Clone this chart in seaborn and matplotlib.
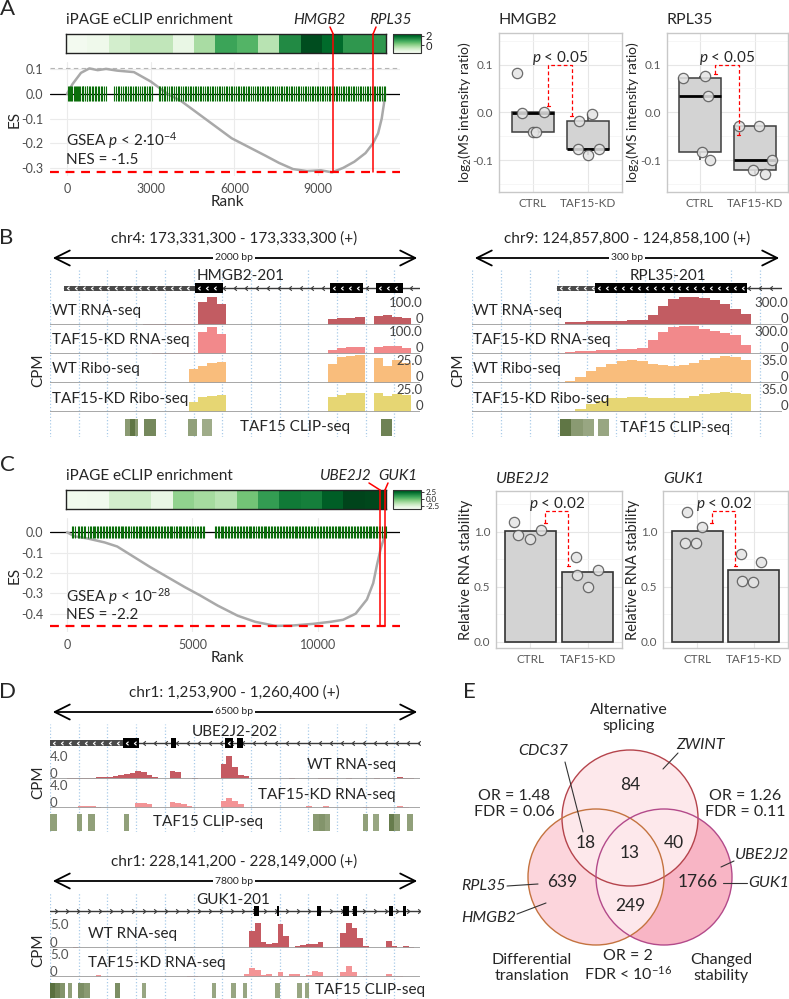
import numpy as np
import pandas as pd
import matplotlib
matplotlib.use("Agg")
import matplotlib.pyplot as plt
import seaborn as sns
from matplotlib.patches import Rectangle, Circle, FancyArrowPatch
from matplotlib.lines import Line2D
from matplotlib.colors import LinearSegmentedColormap
from matplotlib.ticker import FormatStrFormatter

W, H = 789, 999

# ---------------- data: panel A (GSEA, translation) ----------------
a_rank = [0, 200, 500, 800, 1100, 1400, 1800, 2400, 3000, 3600, 4100, 4700, 5300, 5900, 6500,
          7100, 7600, 8100, 8600, 9100, 9500, 9900, 10300, 10700, 10970, 11150, 11280, 11360, 11400]
a_es = [0.0, 0.04, 0.085, 0.103, 0.096, 0.101, 0.094, 0.088, 0.05, 0.0, -0.03, -0.08, -0.13, -0.18, -0.215,
        -0.25, -0.28, -0.305, -0.313, -0.31, -0.318, -0.3, -0.275, -0.24, -0.2, -0.16, -0.1, -0.04, 0.0]
a_hits = [20, 60, 110, 150, 190, 240, 270, 310, 350, 400, 430, 470, 520, 560, 590, 640, 700, 730, 780, 840,
          880, 930, 990, 1040, 1100, 1150, 1210, 1260, 1330, 1380, 1700, 1760, 1830, 1880, 1940, 2010, 2080,
          2120, 2190, 2260, 2300, 2370, 2440, 2490, 2560, 2620, 2680, 2750, 2800, 2870, 2930, 2990, 3050,
          3280, 3340, 3400, 3470, 3520, 3590, 3650, 3720, 3780, 3850, 3900, 3960, 4030, 4090, 4150, 4220,
          4280, 4330, 4400, 4450, 4520, 4580, 4640, 4700, 4770, 4820, 4880, 4950, 5010, 5070, 5130, 5200,
          5250, 5320, 5380, 5440, 5500, 5570, 5620, 5690, 5750, 5810, 5870, 5930, 6000, 6050, 6120, 6180,
          6240, 6300, 6360, 6430, 6490, 6540, 6610, 6670, 6730, 6800, 6850, 6920, 6980, 7040, 7100, 7170,
          7220, 7290, 7350, 7400, 7470, 7530, 7590, 7660, 7710, 7780, 7840, 7900, 7960, 8030, 8080, 8150,
          8210, 8270, 8330, 8400, 8450, 8520, 8580, 8640, 8700, 8770, 8820, 8890, 8950, 9010, 9070, 9140,
          9190, 9260, 9320, 9380, 9440, 9510, 9560, 9630, 9690, 9750, 9810, 9880, 9930, 10000, 10060, 10120,
          10180, 10250, 10300, 10370, 10430, 10490, 10550, 10620, 10670, 10740, 10800, 10860, 10920, 10990,
          11040, 11110, 11170, 11230, 11290, 11350, 11400]
a_ipage = [-1.58, -1.45, -0.88, -0.59, -0.59, -1.29, -0.27, 0.97, 0.68, -0.47, 1.38, 2.28, 1.91, 1.17, 1.17]
a_genes = ["HMGB2", "RPL35"]
a_gene_rank = [9540, 10970]

# proteomics (log2 MS intensity ratio)
ms_hmgb2_ctrl = [0.083, 0.001, -0.001, -0.041, -0.041]
ms_hmgb2_kd = [-0.004, -0.019, -0.076, -0.076, -0.09]
ms_rpl35_ctrl = [0.072, 0.075, 0.035, -0.083, -0.1]
ms_rpl35_kd = [-0.029, -0.029, -0.1, -0.12, -0.13]

# ---------------- data: panel C (GSEA, stability) ----------------
c_rank = [0, 300, 800, 1500, 2000, 2650, 3300, 4000, 4700, 5300, 6000, 6800, 7500, 8300, 9000, 9800,
          10500, 11000, 11500, 11950, 12200, 12350, 12500, 12700]
c_es = [0.0, -0.02, -0.03, -0.05, -0.07, -0.12, -0.17, -0.22, -0.27, -0.31, -0.36, -0.41, -0.44, -0.46,
        -0.458, -0.45, -0.44, -0.43, -0.40, -0.33, -0.25, -0.16, -0.08, 0.0]
c_hits = [200, 250, 310, 420, 480, 540, 600, 660, 720, 850, 900, 960, 1020, 1080, 1130, 1190, 1250, 1310,
          1370, 1420, 1480, 1540, 1600, 1660, 1730, 1780, 1840, 1900, 1960, 2020, 2080, 2140, 2190, 2250,
          2310, 2370, 2440, 2490, 2550, 2610, 2670, 2730, 2790, 2850, 2910, 2960, 3020, 3080, 3140, 3200,
          3260, 3310, 3380, 3440, 3500, 3560, 3620, 3680, 3730, 3790, 3850, 3910, 3970, 4030, 4090, 4150,
          4200, 4260, 4330, 4390, 4450, 4510, 4560, 4620, 4680, 4740, 4800, 4860, 4920, 4980, 5040, 5100,
          5160, 5220, 5280, 5340, 5400, 5450, 5880, 5940, 6000, 6060, 6120, 6170, 6230, 6290, 6350, 6410,
          6470, 6530, 6590, 6650, 6700, 6760, 6820, 6880, 6940, 7000, 7060, 7120, 7180, 7240, 7300, 7350,
          7410, 7470, 7530, 7590, 7650, 7710, 7770, 7830, 7890, 7940, 8000, 8060, 8120, 8180, 8240, 8300,
          8360, 8420, 8480, 8530, 8590, 8650, 8710, 8770, 8830, 8890, 8950, 9010, 9070, 9120, 9180, 9240,
          9300, 9360, 9420, 9480, 9540, 9600, 9660, 9710, 9770, 9830, 9890, 9950, 10010, 10070, 10130,
          10190, 10250, 10300, 10360, 10420, 10480, 10540, 10600, 10660, 10720, 10780, 10840, 10890, 10950,
          11010, 11070, 11130, 11190, 11250, 11310, 11370, 11430, 11480, 11540, 11600, 11660, 11720, 11780,
          11840, 11900, 11960, 12020, 12070, 12130, 12190, 12250, 12310, 12370, 12430, 12490, 12550, 12610,
          12660, 12700]
c_ipage = [-3.32, -3.25, -2.2, -2.06, -2.9, -0.66, -1.08, -1.5, -0.1, 1.16, 2.14, 2.0, 2.84, 3.4, 3.33]
c_genes = ["UBE2J2", "GUK1"]
c_gene_rank = [12470, 12670]

# relative RNA stability
st_ube2j2_ctrl = [1.09, 0.97, 0.93, 1.02]
st_ube2j2_kd = [0.77, 0.61, 0.65, 0.50]
st_guk1_ctrl = [1.18, 1.04, 0.90, 0.90]
st_guk1_kd = [0.80, 0.73, 0.55, 0.54]

# ---------------- data: genome tracks (B, D) ----------------
hmgb2_len = 2000
hmgb2_gene = dict(line=(76, 2000), utr=[(76, 784)], cds=[(784, 935), (1514, 1692), (1762, 1908)], strand=-1)
hmgb2_wt_rna = [0, 0, 0, 0, 0, 0, 0, 0, 0, 1, 2, 2, 3, 3, 4, 5, 80, 100, 75, 0,
                0, 0, 0, 0, 0, 0, 0, 0, 0, 0, 20, 24, 26, 28, 0, 32, 34, 30, 25, 0]
hmgb2_kd_rna = [0, 0, 0, 0, 0, 0, 0, 0, 0, 1, 1, 2, 2, 3, 3, 4, 78, 95, 70, 0,
                0, 0, 0, 0, 0, 0, 0, 0, 0, 0, 15, 22, 24, 24, 0, 25, 30, 28, 22, 0]
hmgb2_wt_ribo = [0, 0, 0, 0, 0, 0, 0, 0, 0, 0, 0, 0, 0, 0, 0, 12, 15, 18, 19, 0,
                 0, 0, 0, 0, 0, 0, 0, 0, 0, 0, 17, 23, 24, 25, 0, 22, 15, 20, 18, 0]
hmgb2_kd_ribo = [0, 0, 0, 0, 0, 0, 0, 0, 0, 0, 0, 0, 0, 0, 0, 9, 13, 14, 15, 0,
                 0, 0, 0, 0, 0, 0, 0, 0, 0, 0, 13, 15, 17, 17, 0, 17, 14, 16, 15, 0]
hmgb2_clip = [(405, 432, 0.45), (432, 459, 0.75), (459, 476, 0.45), (508, 573, 0.6), (746, 795, 0.4),
              (822, 876, 0.3), (1789, 1849, 0.65)]

rpl35_len = 300
rpl35_gene = dict(line=(82, 300), utr=[(82, 119)], cds=[(119, 266)], strand=-1)
rpl35_wt_rna = [0, 0, 0, 0, 0, 0, 0, 0, 10, 30, 35, 38, 40, 42, 45, 48, 52, 110, 200, 280,
                300, 300, 290, 265, 220, 170, 120, 0, 0, 0]
rpl35_kd_rna = [0, 0, 0, 0, 0, 0, 0, 0, 10, 25, 30, 35, 40, 45, 50, 55, 60, 150, 230, 290,
                300, 300, 270, 240, 220, 200, 100, 0, 0, 0]
rpl35_wt_ribo = [0, 0, 0, 0, 0, 0, 0, 0, 0, 2, 8, 15, 20, 24, 27, 28, 27, 24, 22, 21,
                 22, 25, 28, 31, 33, 32, 28, 0, 0, 0]
rpl35_kd_ribo = [0, 0, 0, 0, 0, 0, 0, 0, 0, 0, 4, 10, 14, 17, 18, 19, 19, 18, 17, 17,
                 18, 20, 22, 24, 25, 24, 22, 0, 0, 0]
rpl35_clip = [(85, 96, 0.75), (96, 107, 0.45), (107, 118, 0.35), (122, 133, 0.35)]

ube2j2_len = 6500
ube2j2_gene = dict(line=(0, 6500), utr=[(0, 1282)],
                   cds=[(1282, 1563), (2126, 2214), (3074, 3215), (3285, 3391)], strand=-1)
ube2j2_wt = [0, 0, 0, 0.1, 0.2, 0.2, 0.1, 0.1, 0.4, 0.4, 0.3, 0.5, 0.6, 0.8, 1.0, 1.4, 1.1, 0.6, 0.3, 0,
             0, 1.3, 1.2, 0, 0, 0.1, 0, 0, 0, 0, 2.5, 3.8, 2.0, 0.7, 0.5, 0, 0, 0, 0, 0,
             0, 0, 0.1, 0, 0, 0, 0, 0.1, 0.2, 0.15, 0, 0, 0.1, 0, 0, 0, 0, 0.15, 0, 0,
             0.1, 0.3, 0.2, 0.1, 0]
ube2j2_kd = [0, 0, 0, 0, 0, 0.4, 0.4, 0.3, 0.2, 0, 0, 0, 0, 0, 0, 0.8, 0.9, 0.6, 0, 0,
             0, 1.0, 0.9, 0.6, 0.3, 0, 0, 0, 0, 0, 1.2, 1.6, 1.2, 0.7, 0, 0, 0, 0, 0, 0,
             0, 0, 0, 0, 0, 0.4, 0, 0, 0.3, 0, 0, 0, 0, 0, 0, 0.2, 0, 0, 0, 0,
             0, 0.3, 0.2, 0, 0]
ube2j2_clip = [(0, 123, 0.4), (474, 562, 0.4), (668, 791, 0.4), (1300, 1388, 0.4), (4621, 4726, 0.45),
               (4726, 4832, 0.5), (4832, 4920, 0.4), (5499, 5587, 0.4), (5675, 5780, 0.35),
               (5956, 6044, 0.7), (6044, 6150, 0.45), (6270, 6380, 0.4)]

guk1_len = 7800
guk1_gene = dict(line=(0, 7800), utr=[],
                 cds=[(4300, 4406), (4785, 4827), (5628, 5713), (6176, 6303), (6387, 6472), (7146, 7230),
                      (7441, 7504)], strand=1)
guk1_wt = [0, 0, 0, 0, 0.3, 0, 0, 0, 0, 0, 0, 0, 0, 0, 0, 0, 0, 0, 0, 0,
           0, 0, 0, 0, 0, 0, 0, 0, 0.1, 0, 0, 0, 0, 0, 0, 3.5, 5.0, 1.2, 0.8, 1.0,
           4.8, 2.5, 0, 0.5, 0.6, 0.8, 0.9, 1.2, 0, 0, 0, 3.0, 5.0, 4.0, 2.0, 0.5, 0, 0, 0, 1.5,
           0.4, 0, 0.4, 0.2, 0]
guk1_kd = [0, 0, 0, 0, 0, 0, 0, 0, 0.5, 0, 0, 0, 0, 0, 0.2, 0, 0, 0, 0, 0,
           0, 0, 0, 0, 0.3, 0.2, 0, 0, 0, 0, 0, 0, 0, 0, 0.6, 1.8, 1.4, 0.4, 0.6, 0.3,
           1.0, 0.3, 0.6, 0.7, 0, 0.5, 1.2, 1.0, 0, 0, 0, 1.0, 2.3, 1.0, 0, 0.3, 0, 0, 0, 0.7,
           0.2, 0.2, 0, 0, 0]
guk1_clip = [(0, 105, 0.8), (105, 211, 0.65), (211, 316, 0.5), (379, 464, 0.4), (590, 717, 0.55),
             (717, 843, 0.45), (1370, 1476, 0.55), (1939, 2024, 0.35), (3415, 3499, 0.35),
             (3815, 3921, 0.35), (4068, 4153, 0.35), (4743, 4848, 0.35), (5207, 5312, 0.35),
             (5375, 5460, 0.35)]

# ---------------- data: panel E (Venn) ----------------
venn_counts = {"AS": 84, "AS_DT": 18, "AS_CS": 40, "ALL": 13, "DT": 639, "DT_CS": 249, "CS": 1766}

# ---------------- style ----------------
sns.set_style("white")
plt.rcParams["font.family"] = ["Lato", "DejaVu Sans"]
plt.rcParams["mathtext.fontset"] = "custom"
plt.rcParams["mathtext.rm"] = "Lato"
plt.rcParams["mathtext.it"] = "Lato:italic"
plt.rcParams["mathtext.bf"] = "Lato:bold"
plt.rcParams["axes.unicode_minus"] = False

fig = plt.figure(figsize=(W / 100, H / 100), dpi=100)


def px_axes(x0, y0, x1, y1):
    return fig.add_axes([x0 / W, 1 - y1 / H, (x1 - x0) / W, (y1 - y0) / H])


def ftext(x, y, s, **kw):
    kw.setdefault("ha", "left")
    kw.setdefault("va", "center")
    return fig.text(x / W, 1 - y / H, s, **kw)


def fline(xs, ys, **kw):
    fig.add_artist(Line2D([x / W for x in xs], [1 - y / H for y in ys], transform=fig.transFigure, **kw))


# ---------------- GSEA panels ----------------
def gsea_panel(hm_top, es_box, rank, es, hits, ipage, vlim, cticks, cfmt, cfs, genes, gene_rank,
               lbl_x, foot_x, xlim, ylim, xticks, yticks, stat, stat_y, rank_y):
    ftext(66, hm_top - 14, "iPAGE eCLIP enrichment", fontsize=11)
    ax_h = px_axes(66, hm_top, 386, hm_top + 19)
    cax = px_axes(393, hm_top, 421, hm_top + 19)
    sns.heatmap(pd.DataFrame([ipage]), ax=ax_h, cmap="Greens", vmin=vlim[0], vmax=vlim[1],
                cbar_ax=cax, xticklabels=False, yticklabels=False)
    for sp in ax_h.spines.values():
        sp.set_visible(True)
        sp.set_color("#222222")
        sp.set_linewidth(1)
    cb = ax_h.collections[0].colorbar
    cb.set_ticks(cticks)
    cb.ax.yaxis.set_major_formatter(FormatStrFormatter(cfmt))
    cb.ax.tick_params(labelsize=cfs, length=2.5, width=0.6, pad=1, colors="#222222")
    cb.outline.set_edgecolor("#333333")
    cb.outline.set_linewidth(0.8)

    ax = px_axes(*es_box)
    ax.set_xlim(*xlim)
    ax.set_ylim(*ylim)
    ax.set_xticks(xticks)
    ax.set_yticks(yticks)
    ax.yaxis.set_major_formatter(FormatStrFormatter("%.1f"))
    ax.grid(True, color="#ebebeb", lw=0.8)
    ax.set_axisbelow(True)
    for sp in ax.spines.values():
        sp.set_visible(False)
    ax.tick_params(labelsize=9, colors="#4d4d4d", length=3, width=0.6, pad=2)
    ax.axhline(0, color="black", lw=0.9, zorder=2)
    sns.lineplot(x=rank, y=es, ax=ax, color="#a9a9a9", lw=1.8, zorder=3)
    ax.vlines(hits, -0.03, 0.03, color="#0b6e0b", lw=0.8, zorder=4)
    if max(es) > 0.02:
        ax.axhline(max(es), color="#b5b5b5", ls=(0, (4, 3)), lw=0.8, zorder=2)
    ax.axhline(min(es), color="red", ls=(0, (4, 3)), lw=1.6, zorder=5)
    ax.set_xlabel("")
    ax.set_ylabel("")
    ftext(15, (es_box[1] + es_box[3]) / 2, "ES", rotation=90, ha="center", fontsize=11)
    ftext(227, rank_y, "Rank", ha="center", fontsize=11)
    ftext(66, stat_y[0], stat[0], fontsize=11)
    ftext(66, stat_y[1], stat[1], fontsize=11)

    # genes of interest
    for g, r, lx, fx in zip(genes, gene_rank, lbl_x, foot_x):
        xd, yd = ax.transData.transform((r, min(es)))
        ybot = H - yd
        fline([xd, xd], [ybot, hm_top], color="red", lw=1.1)
        fline([xd, fx], [hm_top, hm_top - 7], color="red", lw=1.1)
        ftext(lx, hm_top - 14, g, ha="center", fontsize=11, style="italic")


gsea_panel(34, (50, 62, 400, 176), a_rank, a_es, a_hits, a_ipage, (-1.7, 2.4), [0, 2], "%.0f", 8,
           a_genes, a_gene_rank, [319, 390], [330, 376], (-610, 11935), (-0.333, 0.129),
           [0, 3000, 6000, 9000], [0.1, 0.0, -0.1, -0.2, -0.3],
           ["GSEA $p$ < 2·10$^{-4}$", "NES = -1.5"], (141, 160), 202)

gsea_panel(490, (50, 518, 400, 632), c_rank, c_es, c_hits, c_ipage, (-3.6, 3.4), [2.5, 0.0, -2.5], "%.1f", 5.8,
           c_genes, c_gene_rank, [346, 398], [369, 388], (-677, 13267), (-0.49, 0.07),
           [0, 5000, 10000], [0.0, -0.1, -0.2, -0.3, -0.4],
           ["GSEA $p$ < 10$^{-28}$", "NES = -2.2"], (597, 615), 658)


# ---------------- small comparison panels ----------------
def light_axes(ax, yticks, minor, ylim):
    ax.set_xlim(-0.6, 1.6)
    ax.set_ylim(*ylim)
    for sp in ax.spines.values():
        sp.set_visible(True)
        sp.set_color("#c8c8c8")
        sp.set_linewidth(1)
    ax.set_yticks(yticks)
    ax.set_yticks(minor, minor=True)
    ax.set_xticks([0, 1], minor=False)
    ax.set_xticklabels(["CTRL", "TAF15-KD"])
    ax.yaxis.set_major_formatter(FormatStrFormatter("%.1f"))
    ax.grid(True, which="major", color="#e6e6e6", lw=0.8)
    ax.grid(True, which="minor", axis="y", color="#f3f3f3", lw=0.5)
    ax.set_axisbelow(True)
    ax.tick_params(which="major", labelsize=8.5, colors="#5a5a5a", length=2.5, width=0.6, pad=1.5)
    ax.tick_params(which="minor", length=0)
    ax.set_xlabel("")
    ax.set_ylabel("")


def bracket(ax, spec, text):
    xl, xr, yl, ytop, yr, ty = spec
    ax.plot([xl, xl, xr, xr], [yl, ytop, ytop, yr], color="red", ls=(0, (3, 2)), lw=0.9, zorder=6)
    for xx, yy in ((xl, yl), (xr, yr)):
        ax.plot([xx - 0.025, xx + 0.025], [yy, yy], color="red", lw=0.9, zorder=6)
    ax.text((xl + xr) / 2, ty, text, ha="center", va="center", fontsize=11, zorder=7)


def points(ax, ctrl, kd, jc, jk):
    pts = pd.DataFrame({"xpos": [j for j in jc] + [1 + j for j in jk], "value": ctrl + kd})
    sns.scatterplot(data=pts, x="xpos", y="value", ax=ax, s=55, color="#e4e4e4", edgecolor="#555555",
                    linewidth=0.9, alpha=0.85, zorder=5, legend=False)


def ms_box(box, title, ctrl, kd, jc, jk, spec):
    ax = px_axes(*box)
    df = pd.DataFrame({"group": ["CTRL"] * len(ctrl) + ["TAF15-KD"] * len(kd), "value": ctrl + kd})
    sns.boxplot(data=df, x="group", y="value", ax=ax, color="#d3d3d3", saturation=1, width=0.75,
                showfliers=False, showcaps=False, linecolor="#3d3d3d", linewidth=1.1,
                medianprops=dict(color="black", linewidth=2))
    points(ax, ctrl, kd, jc, jk)
    light_axes(ax, [0.1, 0.0, -0.1], [0.15, 0.05, -0.05, -0.15], (-0.167, 0.166))
    bracket(ax, spec, "$p$ < 0.05")
    ftext(box[0], 20, title, fontsize=11.5)
    ftext(box[0] - 34, (box[1] + box[3]) / 2, "log$_2$(MS intensity ratio)", rotation=90, ha="center",
          fontsize=10)


def st_bar(box, title, ctrl, kd, jc, jk, spec):
    ax = px_axes(*box)
    df = pd.DataFrame({"group": ["CTRL"] * len(ctrl) + ["TAF15-KD"] * len(kd), "value": ctrl + kd})
    sns.barplot(data=df, x="group", y="value", ax=ax, color="#d3d3d3", saturation=1, errorbar=None,
                width=0.9, edgecolor="#333333", linewidth=1.2)
    points(ax, ctrl, kd, jc, jk)
    light_axes(ax, [1.0, 0.5, 0.0], [1.25, 0.75, 0.25], (-0.055, 1.37))
    bracket(ax, spec, "$p$ < 0.02")
    ftext(box[0], 479, title, fontsize=11.5, style="italic")
    ftext(box[0] - 30, (box[1] + box[3]) / 2, "Relative RNA stability", rotation=90, ha="center",
          fontsize=10.5)


ms_box((499, 33, 622, 192), "HMGB2", ms_hmgb2_ctrl, ms_hmgb2_kd,
       [-0.28, 0.2, -0.19, 0.0, 0.06], [0.06, -0.17, -0.19, 0.19, 0.0],
       (0.28, 0.70, 0.0125, 0.1, -0.008, 0.113))
ms_box((667, 33, 788, 192), "RPL35", ms_rpl35_ctrl, ms_rpl35_kd,
       [-0.31, 0.09, 0.15, 0.03, 0.18], [-0.3, 0.08, 0.31, -0.03, 0.18],
       (0.28, 0.70, 0.081, 0.1, -0.047, 0.113))
st_bar((496, 491, 622, 648), "UBE2J2", st_ube2j2_ctrl, st_ube2j2_kd,
       [-0.28, -0.21, -0.01, 0.19], [-0.21, -0.18, 0.18, 0.0],
       (0.26, 0.66, 1.08, 1.19, 0.69, 1.255))
st_bar((663, 491, 788, 648), "GUK1", st_guk1_ctrl, st_guk1_kd,
       [-0.17, 0.09, -0.22, -0.02], [-0.23, 0.12, -0.21, -0.02],
       (0.26, 0.675, 1.08, 1.19, 0.69, 1.255))


# ---------------- genome tracks ----------------
clip_cmap = LinearSegmentedColormap.from_list("clip", ["#c9d0b6", "#3d5820"])
chev_l = [(0.6, 1.0), (-0.6, 0.0), (0.6, -1.0)]
chev_r = [(-0.6, 1.0), (0.6, 0.0), (-0.6, -1.0)]


def gene_model(ax, L, gene, px_w):
    y = 0.27
    s, e = gene["line"]
    mk = chev_l if gene["strand"] < 0 else chev_r
    ax.plot([s, e], [y, y], color="#3a3a3a", lw=1.0, zorder=1)
    step = L * 11 / px_w
    xs = np.arange(s + step / 2, e, step)
    ax.plot(xs, np.full(len(xs), y), ls="none", marker=mk, ms=3.2, mfc="none", mec="#3a3a3a", mew=0.8,
            zorder=2)
    for a, b in gene["utr"]:
        ax.add_patch(Rectangle((a, y - 0.1), b - a, 0.2, fc="#4a4a4a", ec="none", zorder=3))
    for a, b in gene["cds"]:
        ax.add_patch(Rectangle((a, y - 0.18), b - a, 0.36, fc="black", ec="none", zorder=3))
    inner = L * 8 / px_w
    for a, b in gene["utr"] + gene["cds"]:
        if b - a > inner:
            xs = np.arange(a + inner / 2, b - inner / 4, inner)
            ax.plot(xs, np.full(len(xs), y), ls="none", marker=mk, ms=2.6, mfc="none", mec="white",
                    mew=0.8, zorder=4)


def locus(x0, x1, head_y, title, span, L, gene, glabel, glabel_x, gene_row, rows, clip, clip_row,
          clip_lbl, grid_px, cpm_pos, scale_mode):
    cx = (x0 + x1) / 2 if x0 > 400 else 234
    ftext(cx, head_y, title, ha="center", fontsize=11)
    ay = head_y + 19
    fig.add_artist(FancyArrowPatch((x0 / W, 1 - ay / H), (x1 / W, 1 - ay / H), transform=fig.transFigure,
                                   arrowstyle="<->,head_length=0.9,head_width=0.45", mutation_scale=12,
                                   lw=1.3, color="black"))
    ftext(cx, ay, span, ha="center", fontsize=7.5, bbox=dict(fc="white", ec="none", pad=1.2))

    # dotted vertical guides
    axg = px_axes(x0, gene_row[0], x1, clip_row[1])
    axg.set_xlim(0, L)
    axg.set_ylim(0, 1)
    axg.vlines(np.arange(0, L + 1e-9, L * grid_px / (x1 - x0)), 0, 1, color="#a9cbe8",
               ls=(0, (1, 1.6)), lw=0.9)
    axg.axis("off")

    axr = px_axes(x0, gene_row[0], x1, gene_row[1])
    axr.set_xlim(0, L)
    axr.set_ylim(0, 1)
    axr.axis("off")
    gene_model(axr, L, gene, x1 - x0)
    ftext(glabel_x, gene_row[0] + 0.3 * (gene_row[1] - gene_row[0]), glabel, ha="center", fontsize=11)

    for r in rows:
        vals, color, vmax, label, ty0, ty1, lab_x, lab_ha, head = r
        ax = px_axes(x0, ty0, x1, ty1)
        edges = np.linspace(0, L, len(vals) + 1)
        ax.stairs(vals, edges, fill=True, color=color, lw=0)
        ax.set_xlim(0, L)
        ax.set_ylim(0, vmax * head)
        ax.axis("off")
        ax.axhline(0, color="#a0a0a0", lw=1.3)
        ftext(lab_x, (ty0 + ty1) / 2 + 1, label, ha=lab_ha, fontsize=11)
        if scale_mode == "right":
            sx = x1 + 3 if x1 < 450 else 788
            ftext(sx, ty0 + 7, f"{vmax:.1f}", ha="right", fontsize=9.5, color="#444444")
            ftext(sx, ty1 - 6, "0", ha="right", fontsize=9.5, color="#444444")
        else:
            ftext(x0, ty0 + 7, f"{vmax:.1f}", fontsize=9.5, color="#555555")
            ftext(x0, ty1 - 5, "0", fontsize=9.5, color="#555555")

    axc = px_axes(x0, clip_row[0], x1, clip_row[1])
    axc.set_xlim(0, L)
    axc.set_ylim(0, 1)
    axc.axis("off")
    for a, b, sc in clip:
        axc.add_patch(Rectangle((a, 0.05), b - a, 0.9, fc=clip_cmap(sc), ec="none"))
    ftext(clip_lbl[0], clip_lbl[1], "TAF15 CLIP-seq", fontsize=11)
    ftext(cpm_pos[0], cpm_pos[1], "CPM", rotation=90, ha="center", fontsize=11)


wt_rna_c, kd_rna_c, wt_ribo_c, kd_ribo_c = "#c25c62", "#f2898b", "#f9bd7c", "#e6d673"

locus(50, 420, 239, "chr4: 173,331,300 - 173,333,300 (+)", "2000 bp", hmgb2_len, hmgb2_gene, "HMGB2-201",
      241, (268, 296),
      [(hmgb2_wt_rna, wt_rna_c, 100, "WT RNA-seq", 296, 325, 52, "left", 1.03),
       (hmgb2_kd_rna, kd_rna_c, 100, "TAF15-KD RNA-seq", 325, 354, 52, "left", 1.03),
       (hmgb2_wt_ribo, wt_ribo_c, 25, "WT Ribo-seq", 354, 383, 52, "left", 1.03),
       (hmgb2_kd_ribo, kd_ribo_c, 25, "TAF15-KD Ribo-seq", 383, 412, 52, "left", 1.03)],
      hmgb2_clip, (418, 437), (240, 427), 28.7, (38, 370), "right")

locus(472, 782, 239, "chr9: 124,857,800 - 124,858,100 (+)", "300 bp", rpl35_len, rpl35_gene, "RPL35-201",
      668, (268, 296),
      [(rpl35_wt_rna, wt_rna_c, 300, "WT RNA-seq", 296, 325, 473, "left", 1.03),
       (rpl35_kd_rna, kd_rna_c, 300, "TAF15-KD RNA-seq", 325, 354, 473, "left", 1.03),
       (rpl35_wt_ribo, wt_ribo_c, 35, "WT Ribo-seq", 354, 383, 473, "left", 1.03),
       (rpl35_kd_ribo, kd_ribo_c, 35, "TAF15-KD Ribo-seq", 383, 412, 473, "left", 1.03)],
      rpl35_clip, (418, 437), (620, 428), 28.8, (458, 370), "right")

locus(50, 420, 693, "chr1: 1,253,900 - 1,260,400 (+)", "6500 bp", ube2j2_len, ube2j2_gene, "UBE2J2-202",
      235, (724, 750),
      [(ube2j2_wt, "#c55a62", 4.0, "WT RNA-seq", 750, 779, 396, "right", 1.2),
       (ube2j2_kd, "#f39496", 4.0, "TAF15-KD RNA-seq", 779, 808, 396, "right", 1.2)],
      ube2j2_clip, (813, 832), (153, 822), 28.7, (38, 782), "left")

locus(50, 420, 862, "chr1: 228,141,200 - 228,149,000 (+)", "7800 bp", guk1_len, guk1_gene, "GUK1-201",
      233, (892, 918),
      [(guk1_wt, "#c55a62", 5.0, "WT RNA-seq", 918, 948, 88, "left", 1.2),
       (guk1_kd, "#f39496", 5.0, "TAF15-KD RNA-seq", 948, 977, 88, "left", 1.2)],
      guk1_clip, (982, 999), (315, 990), 28.7, (38, 950), "left")

# ---------------- panel E : Venn ----------------
axv = px_axes(455, 680, 789, 999)
axv.set_xlim(455, 789)
axv.set_ylim(999, 680)
axv.axis("off")
c_as, c_dt, c_cs, rad = (630, 818), (596, 877), (664, 877), 68
axv.add_patch(Circle(c_cs, rad, fc="#f8b5c5", ec="none", zorder=1))
axv.add_patch(Circle(c_dt, rad, fc="#fcd5dc", ec="none", zorder=2))
lap = Circle(c_dt, rad, fc="#fde7eb", ec="none", zorder=3)
axv.add_patch(lap)
lap.set_clip_path(Circle(c_cs, rad, transform=axv.transData))
axv.add_patch(Circle(c_as, rad, fc="#fde8eb", ec="none", zorder=4))
axv.add_patch(Circle(c_as, rad, fc="none", ec="#b5444c", lw=1.0, zorder=6))
axv.add_patch(Circle(c_dt, rad, fc="none", ec="#c4733f", lw=1.0, zorder=6))
axv.add_patch(Circle(c_cs, rad, fc="none", ec="#b34a8a", lw=1.0, zorder=6))

num_pos = {"AS": (630, 785), "AS_DT": (586, 843), "ALL": (630, 853), "AS_CS": (674, 843),
           "DT": (562, 882), "DT_CS": (630, 906), "CS": (698, 882)}
for k, v in venn_counts.items():
    axv.text(*num_pos[k], str(v), ha="center", va="center", fontsize=12.5, zorder=8)

axv.text(629, 718, "Alternative\nsplicing", ha="center", va="center", fontsize=11.5, linespacing=1.15)
axv.text(532, 968, "Differential\ntranslation", ha="center", va="center", fontsize=11.5, linespacing=1.15)
axv.text(721, 968, "Changed\nstability", ha="center", va="center", fontsize=11.5, linespacing=1.15)
axv.text(514, 804, "OR = 1.48\nFDR = 0.06", ha="center", va="center", fontsize=11.5, linespacing=1.15)
axv.text(745, 804, "OR = 1.26\nFDR = 0.11", ha="center", va="center", fontsize=11.5, linespacing=1.15)
axv.text(628, 966, "OR = 2\nFDR < 10$^{-16}$", ha="center", va="center", fontsize=11.5, linespacing=1.15)

callouts = [("CDC37", (543, 751), "center", (565, 762), (583, 832)),
            ("ZWINT", (700, 745), "center", (678, 753), (663, 769)),
            ("UBE2J2", (735, 855), "left", (734, 861), (721, 867)),
            ("GUK1", (748, 883), "left", (747, 883), (723, 883)),
            ("RPL35", (506, 886), "right", (507, 886), (538, 884)),
            ("HMGB2", (516, 918), "right", (517, 914), (546, 903))]
for name, pos, ha, p0, p1 in callouts:
    axv.text(*pos, name, ha=ha, va="center", fontsize=11.5, style="italic", zorder=8)
    axv.plot([p0[0], p1[0]], [p0[1], p1[1]], color="#333333", lw=0.8, zorder=7)

# ---------------- panel letters ----------------
for letter, (lx, ly) in {"A": (7, 9), "B": (6, 238), "C": (7, 465), "D": (8, 692), "E": (469, 692)}.items():
    ftext(lx, ly, letter, ha="center", fontsize=16)

fig.savefig("out.png", dpi=100)
